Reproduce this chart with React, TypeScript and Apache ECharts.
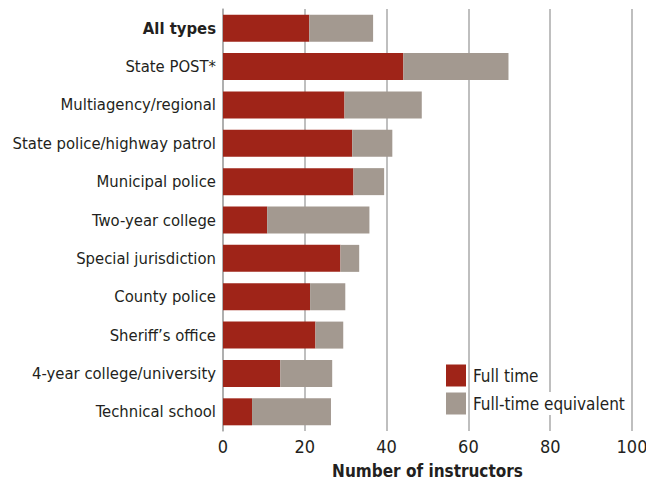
import React, { useEffect, useRef } from "react";
import * as echarts from "echarts";

const categories = [
  "All types",
  "State POST*",
  "Multiagency/regional",
  "State police/highway patrol",
  "Municipal police",
  "Two-year college",
  "Special jurisdiction",
  "County police",
  "Sheriff\u2019s office",
  "4-year college/university",
  "Technical school",
];
const fullTime = [21.1, 44.1, 29.7, 31.6, 31.9, 10.8, 28.7, 21.3, 22.6, 14.0, 7.1];
const fullTimeEquivalent = [15.6, 25.7, 18.9, 9.8, 7.5, 25.0, 4.6, 8.6, 6.8, 12.7, 19.3];
const xTicks = { min: 0, max: 100, interval: 20 };
const xAxisName = "Number of instructors";
const seriesNames = ["Full time", "Full-time equivalent"];

const FONT = "'DejaVu Sans Condensed', 'Liberation Sans Narrow', sans-serif";
const TEXT = "#231f20";

export default function App() {
  const ref = useRef<HTMLDivElement>(null);
  useEffect(() => {
    if (!ref.current) return;
    const chart = echarts.init(ref.current, null, { renderer: "svg" });
    chart.setOption({
      animation: false,
      backgroundColor: "#ffffff",
      textStyle: { fontFamily: FONT, color: TEXT },
      grid: {
        left: 223,
        right: 14,
        top: 9,
        bottom: 49,
        containLabel: false,
        outerBoundsMode: "none",
      },
      legend: {
        orient: "vertical",
        left: 446,
        top: 364,
        padding: 0,
        itemWidth: 20,
        itemHeight: 22,
        itemGap: 5,
        icon: "rect",
        textStyle: {
          fontFamily: FONT,
          fontSize: 17,
          color: TEXT,
          backgroundColor: "#ffffff",
          padding: [3, 2],
        },
        data: seriesNames,
      },
      xAxis: {
        type: "value",
        min: xTicks.min,
        max: xTicks.max,
        interval: xTicks.interval,
        name: xAxisName,
        nameLocation: "middle",
        nameGap: 31,
        nameTextStyle: { fontFamily: FONT, fontSize: 17, fontWeight: "bold", color: TEXT },
        axisLine: { show: false },
        axisTick: { show: false },
        axisLabel: { fontFamily: FONT, fontSize: 18, color: TEXT, margin: 6 },
        splitLine: { show: true, lineStyle: { color: "#aaaaaa", width: 1.5 } },
      },
      yAxis: {
        type: "category",
        data: categories,
        inverse: true,
        axisLine: { show: true, lineStyle: { color: "#aaaaaa", width: 1.5 } },
        axisTick: { show: false },
        axisLabel: {
          fontFamily: FONT,
          fontSize: 16.5,
          color: TEXT,
          margin: 7,
          formatter: (v: string) => (v === "All types" ? "{b|" + v + "}" : v),
          rich: { b: { fontFamily: FONT, fontSize: 16.5, fontWeight: "bold", color: TEXT } },
        },
      },
      series: [
        {
          name: seriesNames[0],
          type: "bar",
          stack: "total",
          barWidth: 27,
          itemStyle: { color: "#9f2418" },
          data: fullTime,
        },
        {
          name: seriesNames[1],
          type: "bar",
          stack: "total",
          barWidth: 27,
          itemStyle: { color: "#a39990" },
          data: fullTimeEquivalent,
        },
      ],
    });
    return () => chart.dispose();
  }, []);
  return (
    <div
      ref={ref}
      style={{ position: "fixed", left: 0, top: 0, width: 646, height: 480 }}
    />
  );
}
